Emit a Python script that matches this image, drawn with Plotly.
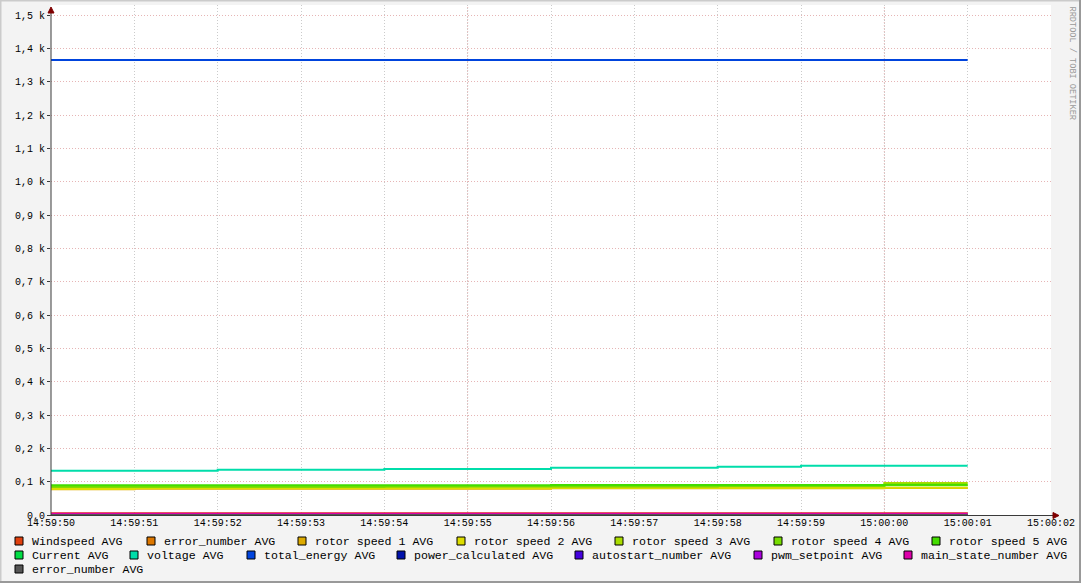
import plotly.graph_objects as go

# ---------------- data ----------------
times = ["2024-01-01 14:59:50", "2024-01-01 14:59:51", "2024-01-01 14:59:52",
         "2024-01-01 14:59:53", "2024-01-01 14:59:54", "2024-01-01 14:59:55",
         "2024-01-01 14:59:56", "2024-01-01 14:59:57", "2024-01-01 14:59:58",
         "2024-01-01 14:59:59", "2024-01-01 15:00:00", "2024-01-01 15:00:01"]

windspeed        = [5, 5, 5, 5, 5, 5, 5, 5, 5, 5, 5, 5]
error_number     = [0, 0, 0, 0, 0, 0, 0, 0, 0, 0, 0, 0]
rotor_speed_1    = [77, 79, 79, 79, 79, 79, 80, 80, 80, 80, 81, 81]
rotor_speed_2    = [78, 80, 80, 80, 80, 80, 81, 81, 81, 81, 82, 82]
rotor_speed_3    = [84, 84, 84, 84, 84, 85, 85, 85, 86, 86, 96, 96]
rotor_speed_4    = [85, 85, 85, 85, 86, 86, 86, 86, 87, 87, 89, 89]
rotor_speed_5    = [89, 89, 89, 89, 89, 89, 90, 90, 90, 90, 91, 91]
current          = [2, 2, 2, 2, 2, 2, 2, 2, 2, 2, 2, 2]
voltage          = [133, 133, 136, 136, 138, 138, 142, 142, 145, 148, 148, 148]
total_energy     = [1365, 1365, 1365, 1365, 1365, 1365, 1365, 1365, 1365, 1365, 1365, 1365]
power_calculated = [0, 0, 0, 0, 0, 0, 0, 0, 0, 0, 0, 0]
autostart_number = [0, 0, 0, 0, 0, 0, 0, 0, 0, 0, 0, 0]
pwm_setpoint     = [0, 0, 0, 0, 0, 0, 0, 0, 0, 0, 0, 0]
main_state       = [4, 4, 4, 4, 4, 4, 4, 4, 4, 4, 4, 4]
error_number_2   = [0, 0, 0, 0, 0, 0, 0, 0, 0, 0, 0, 0]

series_names = ["Windspeed AVG", "error_number AVG", "rotor speed 1 AVG", "rotor speed 2 AVG",
                "rotor speed 3 AVG", "rotor speed 4 AVG", "rotor speed 5 AVG",
                "Current AVG", "voltage AVG", "total_energy AVG", "power_calculated AVG",
                "autostart_number AVG", "pwm_setpoint AVG", "main_state_number AVG",
                "error_number AVG"]
series_values = [windspeed, error_number, rotor_speed_1, rotor_speed_2, rotor_speed_3,
                 rotor_speed_4, rotor_speed_5, current, voltage, total_energy,
                 power_calculated, autostart_number, pwm_setpoint, main_state, error_number_2]
series_colors = ["#E0400E", "#DD7700", "#DDAA00", "#DDDD00", "#AADD00", "#77DD00",
                 "#44DD00", "#00DD44", "#00DDAA", "#0044DD", "#0011AA", "#4400DD",
                 "#AA00DD", "#DD00AA", "#555555"]

y_tick_vals = [0, 100, 200, 300, 400, 500, 600, 700, 800, 900, 1000, 1100, 1200, 1300, 1400, 1500]
y_tick_text = ["0,0", "0,1 k", "0,2 k", "0,3 k", "0,4 k", "0,5 k", "0,6 k", "0,7 k", "0,8 k",
               "0,9 k", "1,0 k", "1,1 k", "1,2 k", "1,3 k", "1,4 k", "1,5 k"]

# ---------------- layout geometry (pixels) ----------------
W, H = 1081, 583
L, R, T, B = 51, 1051, 5, 515
FONT = "Liberation Mono"


def px(x):
    return (x - L) / (R - L)


def py(y):
    return (B - y) / (B - T)


fig = go.Figure()
for name, vals, col in zip(series_names, series_values, series_colors):
    fig.add_trace(go.Scatter(x=times, y=vals, mode="lines", name=name,
                             line=dict(color=col, width=2, shape="hv"),
                             showlegend=False, hoverinfo="skip"))

shapes = []
annotations = []

# major vertical grid lines
for t in ["2024-01-01 14:59:55", "2024-01-01 15:00:00"]:
    shapes.append(dict(type="line", xref="x", yref="paper", x0=t, x1=t, y0=0, y1=1,
                       line=dict(color="rgba(200,90,90,0.45)", width=1, dash="1px,2px"),
                       layer="below"))

# axes with arrows
axis_col = "#3a3a3a"
shapes.append(dict(type="line", xref="paper", yref="paper", x0=px(51), x1=px(51),
                   y0=py(516), y1=py(11), line=dict(color=axis_col, width=1)))
shapes.append(dict(type="line", xref="paper", yref="paper", x0=px(50), x1=px(1055),
                   y0=py(515.5), y1=py(515.5), line=dict(color=axis_col, width=1)))
shapes.append(dict(type="path", xref="paper", yref="paper",
                   path=f"M {px(48)} {py(13)} L {px(54)} {py(13)} L {px(51)} {py(7)} Z",
                   fillcolor="#7F0000", line=dict(color="#7F0000", width=1)))
shapes.append(dict(type="path", xref="paper", yref="paper",
                   path=f"M {px(1053)} {py(512.5)} L {px(1053)} {py(518.5)} L {px(1059)} {py(515.5)} Z",
                   fillcolor="#7F0000", line=dict(color="#7F0000", width=1)))

# image border (3D frame)
shapes.append(dict(type="line", xref="paper", yref="paper", x0=px(0), x1=px(W), y0=py(0.5), y1=py(0.5),
                   line=dict(color="#CBCBCB", width=2)))
shapes.append(dict(type="line", xref="paper", yref="paper", x0=px(0.5), x1=px(0.5), y0=py(0), y1=py(H),
                   line=dict(color="#CBCBCB", width=2)))
shapes.append(dict(type="line", xref="paper", yref="paper", x0=px(W - 1), x1=px(W - 1), y0=py(0), y1=py(H),
                   line=dict(color="#999999", width=2)))
shapes.append(dict(type="line", xref="paper", yref="paper", x0=px(0), x1=px(W), y0=py(H - 1), y1=py(H - 1),
                   line=dict(color="#999999", width=2)))

# legend (drawn rrdtool style)
legend_rows = [541, 555, 569]
legend_layout = [
    (0, 15), (0, 147), (0, 298), (0, 457), (0, 615), (0, 774), (0, 932),
    (1, 15), (1, 130), (1, 247), (1, 397), (1, 575), (1, 754), (1, 904),
    (2, 15),
]
for (row, bx), name, col in zip(legend_layout, series_names, series_colors):
    yc = legend_rows[row]
    shapes.append(dict(type="rect", xref="paper", yref="paper",
                       x0=px(bx), x1=px(bx + 8), y0=py(yc - 4), y1=py(yc + 4),
                       fillcolor=col, line=dict(color="#000000", width=1)))
    annotations.append(dict(x=px(bx + 14.5), y=py(yc), xref="paper", yref="paper",
                            text=name, showarrow=False, xanchor="left", yanchor="middle",
                            font=dict(family=FONT, size=11.6, color="#000000")))

# watermark
annotations.append(dict(x=px(1072), y=py(4), xref="paper", yref="paper",
                        text="RRDTOOL / TOBI OETIKER", showarrow=False, textangle=90,
                        xanchor="center", yanchor="top",
                        font=dict(family=FONT, size=8.6, color="#999999")))

fig.update_layout(
    width=W, height=H,
    margin=dict(l=L, r=W - R, t=T, b=H - B, pad=0, autoexpand=False),
    paper_bgcolor="#F3F3F3", plot_bgcolor="#FFFFFF",
    showlegend=False,
    font=dict(family=FONT, size=10, color="#000000"),
    xaxis=dict(type="date", range=["2024-01-01 14:59:50", "2024-01-01 15:00:02"],
               dtick=1000, tick0="2024-01-01 14:59:50", tickformat="%H:%M:%S",
               showgrid=True, gridcolor="rgba(140,140,140,0.45)", griddash="1px,2px", gridwidth=1,
               zeroline=False, showline=False, ticks="", tickfont=dict(family=FONT, size=10),
               automargin=False, fixedrange=True),
    yaxis=dict(range=[0, 1530], tickvals=y_tick_vals, ticktext=y_tick_text,
               showgrid=True, gridcolor="rgba(200,90,90,0.45)", griddash="1px,2px", gridwidth=1,
               zeroline=False, showline=False, ticks="outside", ticklen=3, tickcolor=axis_col,
               tickfont=dict(family=FONT, size=10), automargin=False, fixedrange=True),
    shapes=shapes,
    annotations=annotations,
)

fig.write_html("out.html", config={"staticPlot": True},
               post_script="document.body.style.margin='0';document.body.style.overflow='hidden';")
